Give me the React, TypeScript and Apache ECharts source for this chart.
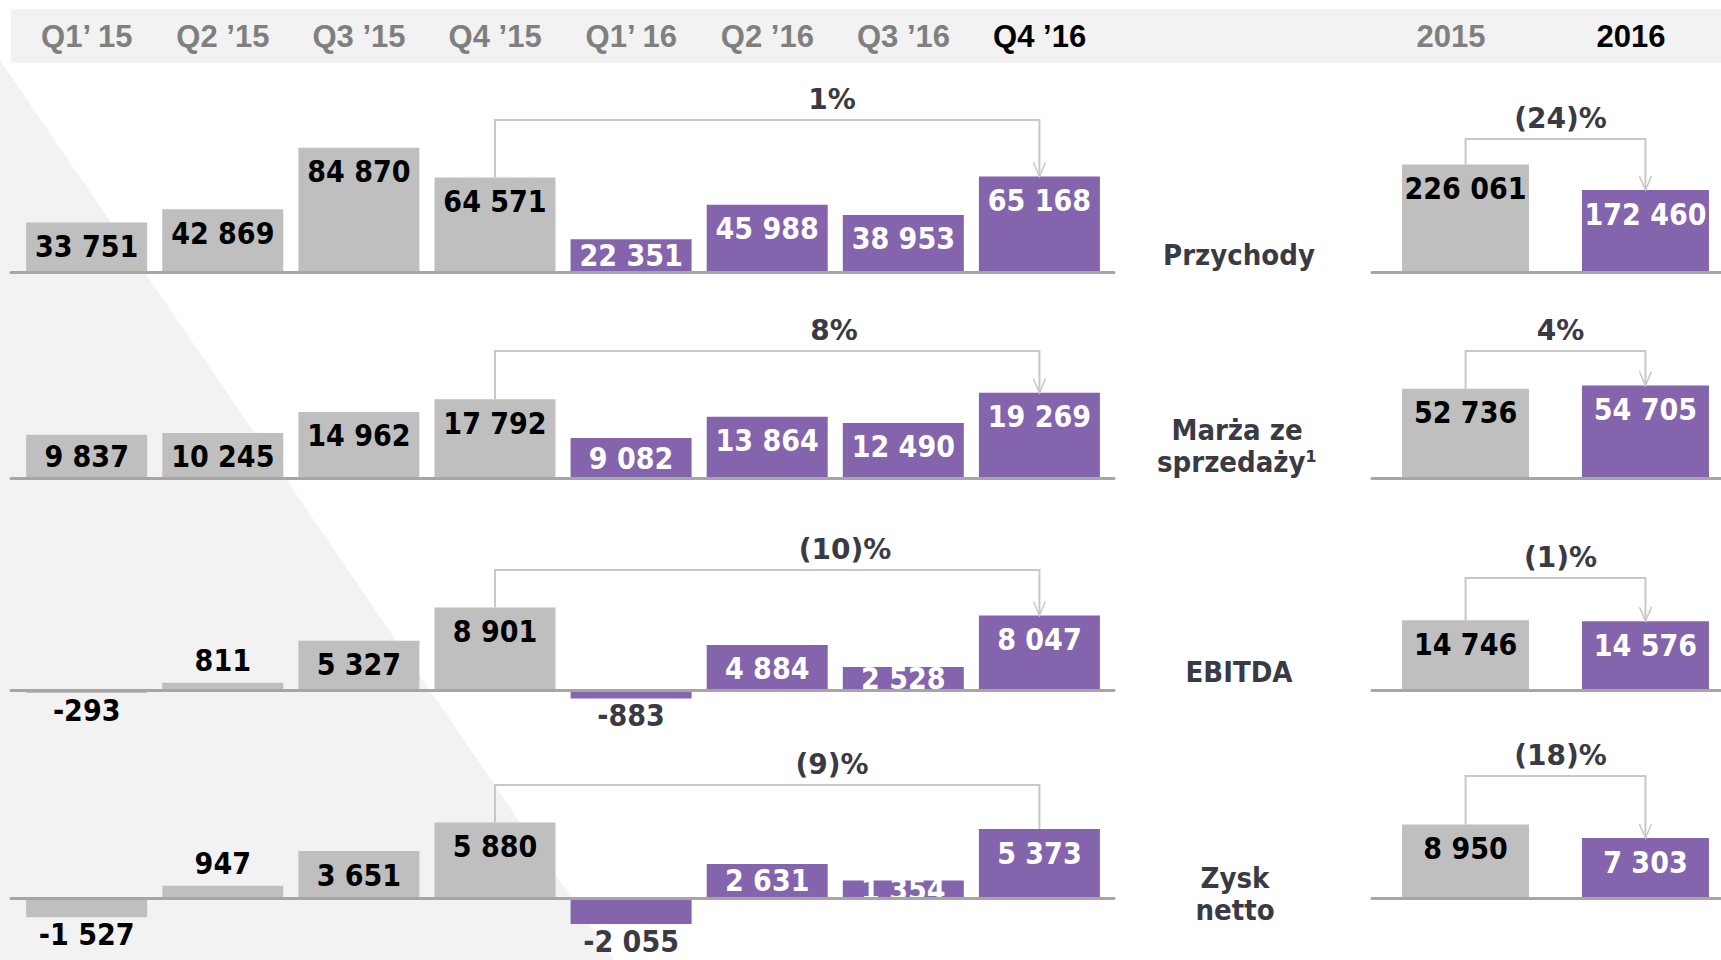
import React, { useEffect, useRef } from "react";
import * as echarts from "echarts";

// ---------- data ----------
const quarters = ["Q1’ 15", "Q2 ’15", "Q3 ’15", "Q4 ’15", "Q1’ 16", "Q2 ’16", "Q3 ’16", "Q4 ’16"];
const years = ["2015", "2016"];
const rowNames = ["Przychody", "Marża ze\nsprzedaży¹", "EBITDA", "Zysk\nnetto"];

const revenueQ = [33751, 42869, 84870, 64571, 22351, 45988, 38953, 65168];
const marginQ = [9837, 10245, 14962, 17792, 9082, 13864, 12490, 19269];
const ebitdaQ = [-293, 811, 5327, 8901, -883, 4884, 2528, 8047];
const netQ = [-1527, 947, 3651, 5880, -2055, 2631, 1354, 5373];

const revenueY = [226061, 172460];
const marginY = [52736, 54705];
const ebitdaY = [14746, 14576];
const netY = [8950, 7303];

const changeQ = ["1%", "8%", "(10)%", "(9)%"];
const changeY = ["(24)%", "4%", "(1)%", "(18)%"];

const quarterSeries = [revenueQ, marginQ, ebitdaQ, netQ];
const yearSeries = [revenueY, marginY, ebitdaY, netY];

// ---------- layout / style ----------
const W = 1721;
const H = 960;
const GREY = "#bfbfbf";
const PURPLE = "#8464ac";
const DARK = "#3a3a44";
const AXIS = "#a6a6a6";
const BRACKET = "#c8c8c8";
const VALUE_FONT = "'DejaVu Sans Condensed', 'DejaVu Sans', sans-serif";
const PCT_FONT = "'DejaVu Sans', sans-serif";
const HEAD_FONT = "'Liberation Sans', Arial, sans-serif";

// bar panels use a value x-axis (category i sits at x = i)
const LEFT = { left: 11, width: 1103, min: -0.556, max: 7.548 };
const RIGHT = { left: 1372, width: 349, min: -0.52, max: 1.42 };
const HEAD_LEFT = { left: 18.7, width: 1089 };
const HEAD_RIGHT = { left: 1361, width: 360 };

const rows = [
  { base: 272, sL: 0.001465, minL: 0, maxL: 100000, sR: 0.000475, minR: 0, maxR: 250000, brL: 120, brR: 139, pctX: 832, arrowL: true, labelX: 1239, labelY: 255 },
  { base: 478.5, sL: 0.00445, minL: 0, maxL: 25000, sR: 0.0017, minR: 0, maxR: 60000, brL: 351, brR: 351, pctX: 834, arrowL: true, labelX: 1237, labelY: 446 },
  { base: 690.4, sL: 0.0093, minL: -3000, maxL: 10000, sR: 0.00475, minR: 0, maxR: 16000, brL: 570, brR: 578, pctX: 845, arrowL: true, labelX: 1239, labelY: 672 },
  { base: 897.8, sL: 0.0128, minL: -3000, maxL: 7000, sR: 0.00818, minR: 0, maxR: 10000, brL: 785, brR: 776, pctX: 832, arrowL: false, labelX: 1235, labelY: 894 },
];

const fmt = (n: number) =>
  (n < 0 ? "-" : "") + String(Math.abs(n)).replace(/\B(?=(\d{3})+(?!\d))/g, " ");

function barItem(i: number, v: number, purple: boolean, s: number) {
  const h = Math.abs(v) * s;
  let label: any;
  if (v < 0) {
    label = { position: "bottom", distance: 2, color: purple ? DARK : "#000" };
  } else if (h < 15) {
    label = { position: "top", distance: 7, color: "#000" };
  } else if (h < 45) {
    label = { position: "inside", color: purple ? "#fff" : "#000" };
  } else {
    label = { position: "insideTop", distance: 9, color: purple ? "#fff" : "#000" };
  }
  return { value: [i, v], itemStyle: { color: purple ? PURPLE : GREY }, label };
}

function bracketSeries(gi: number, from: number, to: number, vals: number[], yTop: number, text: string, textX: number | null, arrow: boolean) {
  return {
    type: "custom",
    xAxisIndex: gi,
    yAxisIndex: gi,
    clip: false,
    silent: true,
    z: 5,
    dimensions: ["from", "to", "fromV", "toV"],
    encode: { x: [0, 1], y: [2, 3] },
    data: [[from, to, vals[from], vals[to]]],
    renderItem: (params: any, api: any) => {
      const a = api.coord([api.value(0), api.value(2)]);
      const b = api.coord([api.value(1), api.value(3)]);
      const children: any[] = [
        {
          type: "polyline",
          shape: { points: [[a[0], a[1]], [a[0], yTop], [b[0], yTop], [b[0], b[1]]] },
          style: { stroke: BRACKET, lineWidth: 2, fill: null },
        },
      ];
      if (arrow) {
        children.push({
          type: "polyline",
          shape: { points: [[b[0] - 6, b[1] - 14], [b[0], b[1]], [b[0] + 6, b[1] - 14]] },
          style: { stroke: BRACKET, lineWidth: 1.5, fill: null },
        });
      }
      children.push({
        type: "text",
        x: textX == null ? (a[0] + b[0]) / 2 + 5 : textX,
        y: yTop - 21,
        style: {
          text,
          fill: DARK,
          fontFamily: PCT_FONT,
          fontWeight: "bold",
          fontSize: 28,
          align: "center",
          verticalAlign: "middle",
        },
      });
      return { type: "group", children };
    },
  };
}

function buildOption() {
  const grid: any[] = [
    { left: HEAD_LEFT.left, width: HEAD_LEFT.width, top: 9, height: 27 },
    { left: HEAD_RIGHT.left, width: HEAD_RIGHT.width, top: 9, height: 27 },
  ];
  const headLabel = (lastBlack: number) => ({
    margin: 0,
    interval: 0,
    verticalAlign: "middle",
    fontFamily: HEAD_FONT,
    fontWeight: "bold",
    fontSize: 31,
    color: (_v: any, i: number) => (i === lastBlack ? "#000" : "#7f7f7f"),
  });
  const xAxis: any[] = [
    { gridIndex: 0, type: "category", data: quarters, axisLine: { show: false }, axisTick: { show: false }, axisLabel: headLabel(quarters.length - 1) },
    { gridIndex: 1, type: "category", data: years, axisLine: { show: false }, axisTick: { show: false }, axisLabel: headLabel(years.length - 1) },
  ];
  const yAxis: any[] = [
    { gridIndex: 0, type: "value", show: false },
    { gridIndex: 1, type: "value", show: false },
  ];
  const series: any[] = [];

  const posAxis = (gi: number, p: any) => ({
    gridIndex: gi,
    type: "value",
    min: p.min,
    max: p.max,
    z: 3,
    axisLine: { show: true, onZero: true, lineStyle: { color: AXIS, width: 3 } },
    axisTick: { show: false },
    axisLabel: { show: false },
    splitLine: { show: false },
  });

  rows.forEach((r, ri) => {
    const gL = grid.length;
    grid.push({ left: LEFT.left, width: LEFT.width, top: r.base - r.maxL * r.sL, height: (r.maxL - r.minL) * r.sL });
    const gR = grid.length;
    grid.push({ left: RIGHT.left, width: RIGHT.width, top: r.base - r.maxR * r.sR, height: (r.maxR - r.minR) * r.sR });

    xAxis.push(posAxis(gL, LEFT));
    xAxis.push(posAxis(gR, RIGHT));
    yAxis.push({ gridIndex: gL, type: "value", min: r.minL, max: r.maxL, show: false, splitLine: { show: false } });
    yAxis.push({ gridIndex: gR, type: "value", min: r.minR, max: r.maxR, show: false, splitLine: { show: false } });

    const labelBase = {
      show: true,
      formatter: (p: any) => fmt(p.value[1]),
      fontFamily: VALUE_FONT,
      fontWeight: "bold",
      fontSize: 30,
    };
    const qVals = quarterSeries[ri];
    const yVals = yearSeries[ri];
    series.push({
      type: "bar",
      name: rowNames[ri] + " kw.",
      xAxisIndex: gL,
      yAxisIndex: gL,
      barWidth: 121,
      label: labelBase,
      data: qVals.map((v, i) => barItem(i, v, i >= 4, r.sL)),
    });
    series.push({
      type: "bar",
      name: rowNames[ri] + " rok",
      xAxisIndex: gR,
      yAxisIndex: gR,
      barWidth: 127,
      label: labelBase,
      data: yVals.map((v, i) => barItem(i, v, i >= 1, r.sR)),
    });
    series.push(bracketSeries(gL, 3, 7, qVals, r.brL, changeQ[ri], r.pctX, r.arrowL));
    series.push(bracketSeries(gR, 0, 1, yVals, r.brR, changeY[ri], null, true));
  });

  const graphic: any[] = [
    { type: "polygon", z: -10, shape: { points: [[0, 60], [614, 960], [0, 960]] }, style: { fill: "#f2f2f2" } },
    { type: "rect", z: -10, shape: { x: 11, y: 9, width: W - 11, height: 54 }, style: { fill: "#f2f2f2" } },
    ...rows.map((r, ri) => ({
      type: "text",
      x: r.labelX,
      y: r.labelY,
      style: {
        text: rowNames[ri],
        fill: DARK,
        fontFamily: VALUE_FONT,
        fontWeight: "bold",
        fontSize: 29,
        lineHeight: 32,
        align: "center",
        verticalAlign: "middle",
      },
    })),
  ];

  return { animation: false, backgroundColor: "#fff", grid, xAxis, yAxis, series, graphic };
}

export default function App() {
  const ref = useRef<HTMLDivElement>(null);
  useEffect(() => {
    if (!ref.current) return;
    const chart = echarts.init(ref.current, undefined, { renderer: "svg", width: W, height: H });
    chart.setOption(buildOption() as any);
    return () => chart.dispose();
  }, []);
  return (
    <div
      ref={ref}
      style={{ position: "fixed", left: 0, top: 0, width: W, height: H, background: "#fff" }}
    />
  );
}
